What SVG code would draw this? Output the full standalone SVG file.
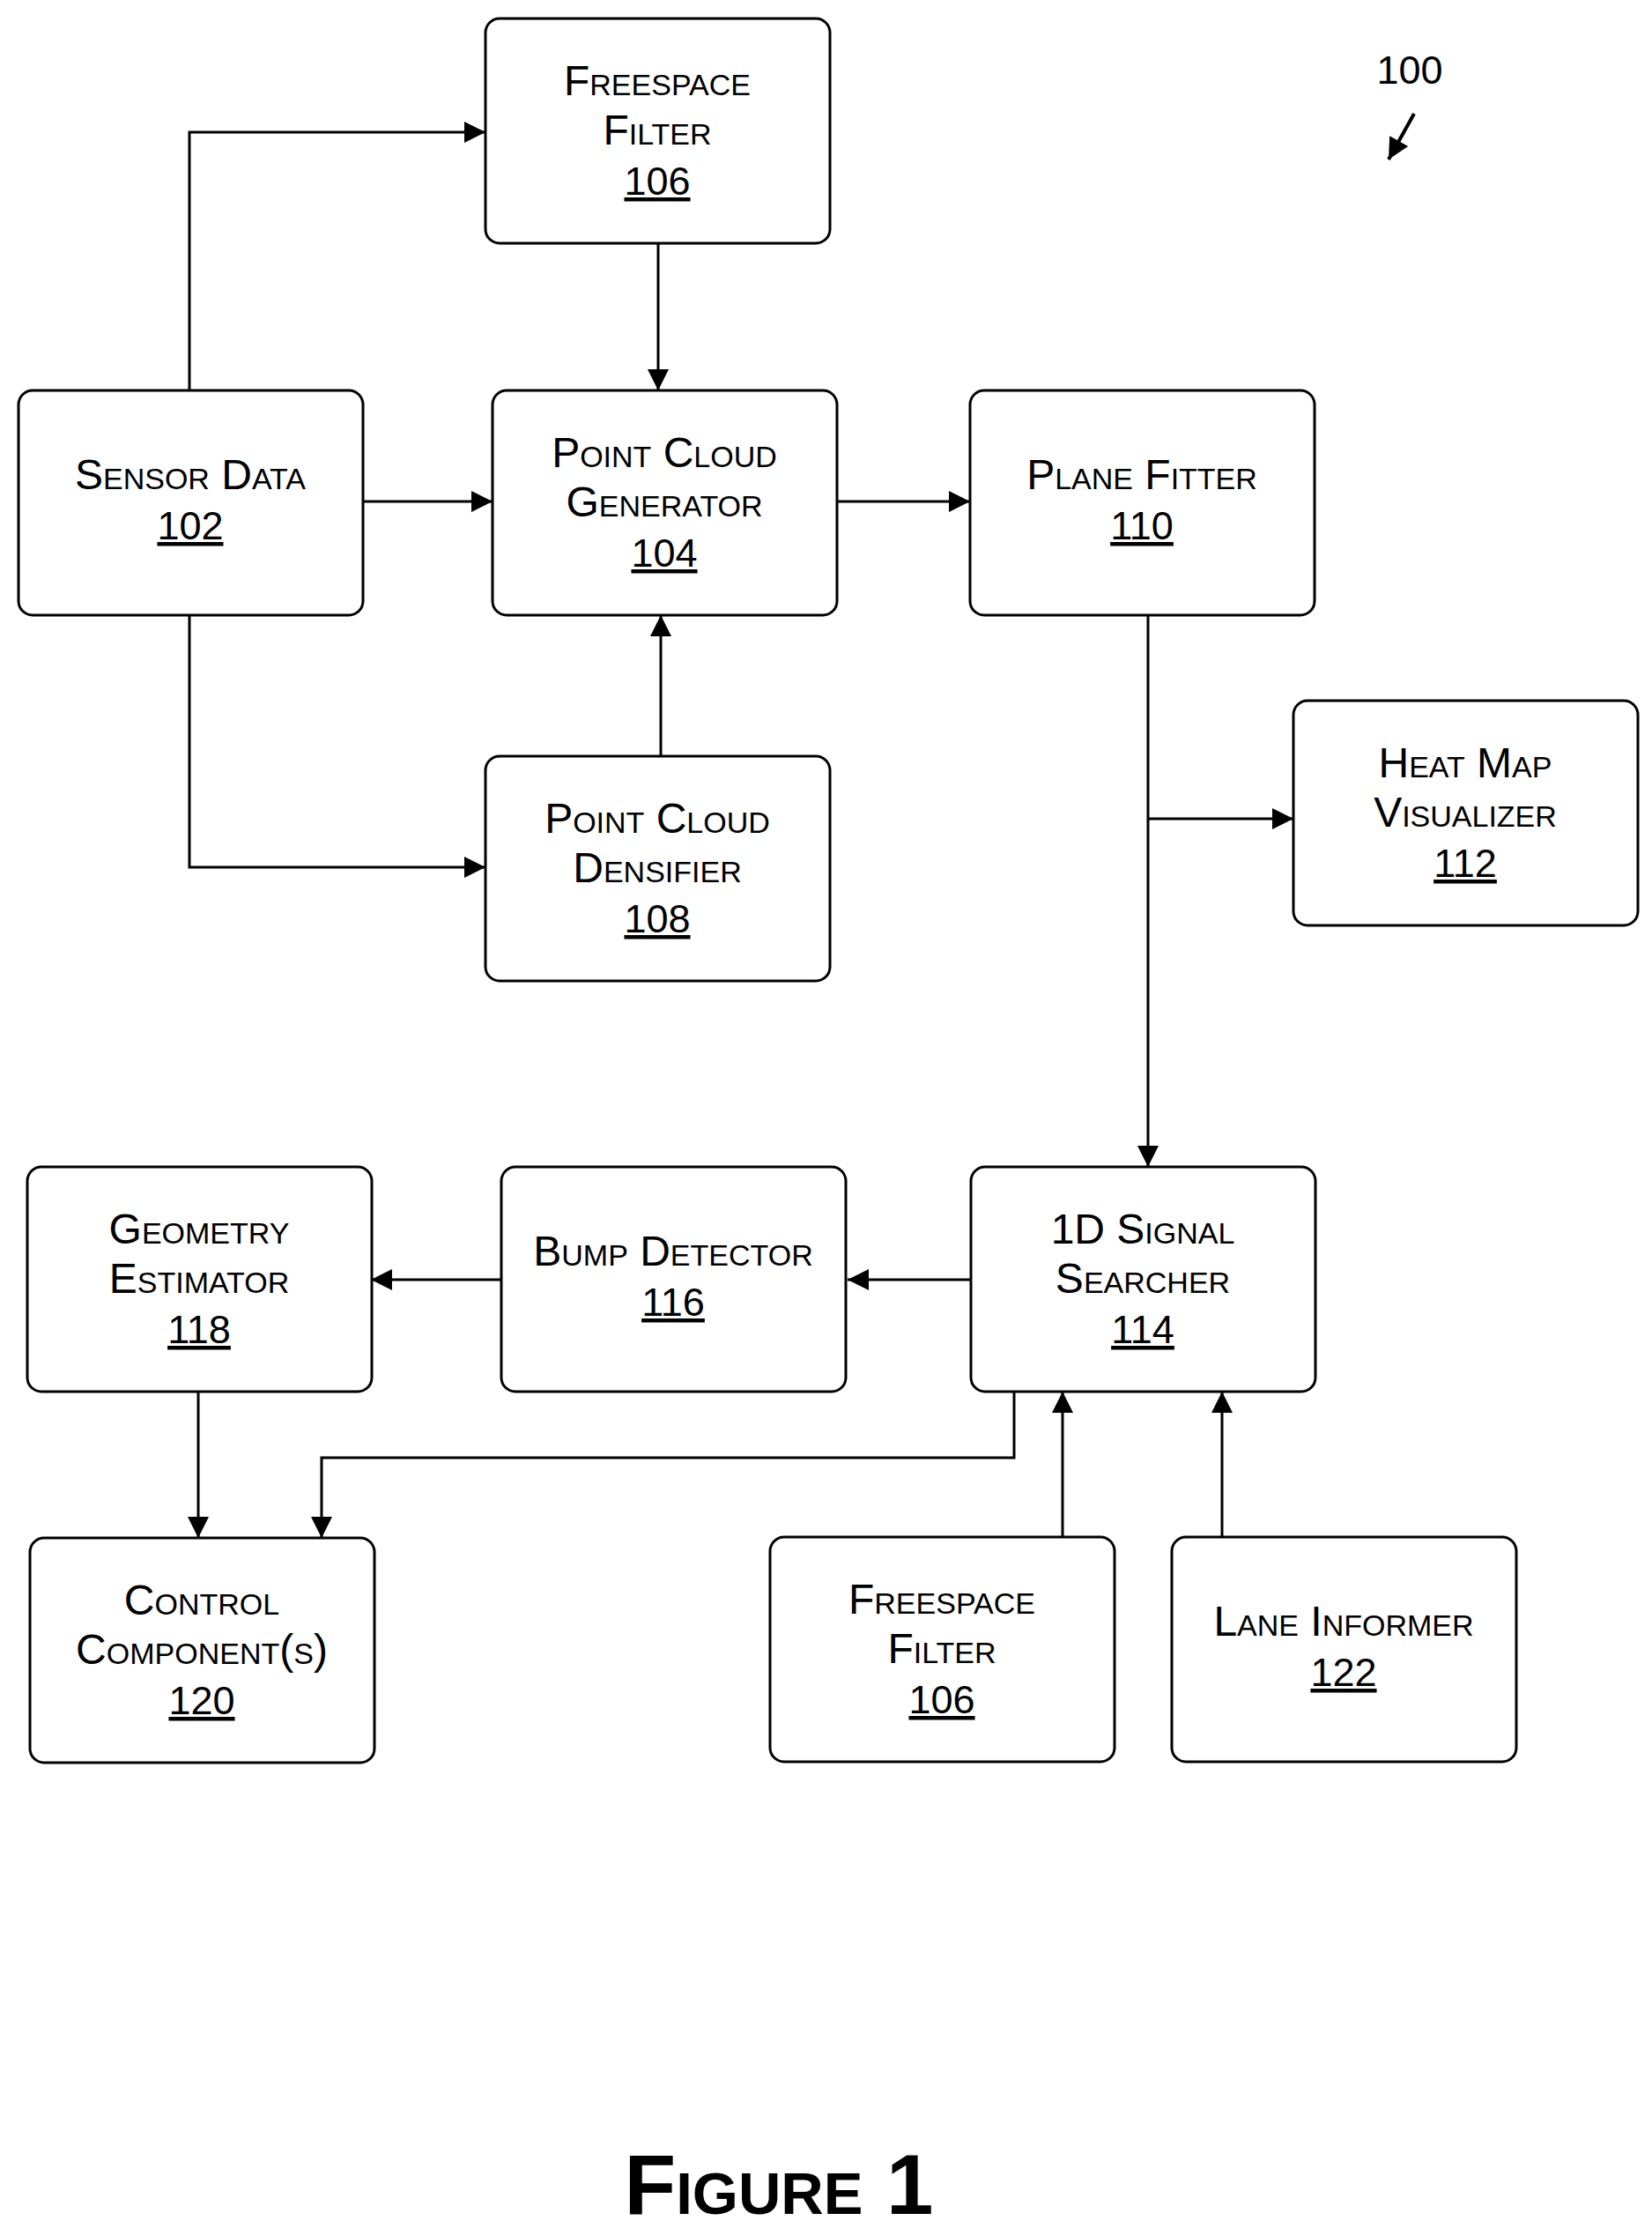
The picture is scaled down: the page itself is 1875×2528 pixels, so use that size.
<svg xmlns="http://www.w3.org/2000/svg" width="1875" height="2528" viewBox="0 0 1875 2528">
<style>
.b{fill:#fff;stroke:#000;stroke-width:3}
text{font-family:"Liberation Sans",Arial,sans-serif;font-size:45px;text-anchor:middle;fill:#000}
.sc{font-variant:small-caps;font-size:48px}
.n{text-decoration:underline}
.c{fill:none;stroke:#000;stroke-width:3;marker-end:url(#a)}
</style>
<defs><marker id="a" viewBox="0 0 10 10" refX="10" refY="5" markerWidth="36" markerHeight="24" markerUnits="userSpaceOnUse" orient="auto"><path d="M0,0L10,5L0,10z" fill="#000"/></marker></defs>
<rect width="1875" height="2528" fill="#fff"/>
<g id="n106a"><rect class="b" x="551" y="21" width="391" height="255" rx="16"/><text class="sc" x="746" y="108">Freespace</text><text class="sc" x="746" y="164">Filter</text><text class="n" x="746" y="221">106</text></g>
<g id="n102"><rect class="b" x="21" y="443" width="391" height="255" rx="16"/><text class="sc" x="216" y="555">Sensor Data</text><text class="n" x="216" y="612">102</text></g>
<g id="n104"><rect class="b" x="559" y="443" width="391" height="255" rx="16"/><text class="sc" x="754" y="530">Point Cloud</text><text class="sc" x="754" y="586">Generator</text><text class="n" x="754" y="643">104</text></g>
<g id="n110"><rect class="b" x="1101" y="443" width="391" height="255" rx="16"/><text class="sc" x="1296" y="555">Plane Fitter</text><text class="n" x="1296" y="612">110</text></g>
<g id="n108"><rect class="b" x="551" y="858" width="391" height="255" rx="16"/><text class="sc" x="746" y="945">Point Cloud</text><text class="sc" x="746" y="1001">Densifier</text><text class="n" x="746" y="1058">108</text></g>
<g id="n112"><rect class="b" x="1468" y="795" width="391" height="255" rx="16"/><text class="sc" x="1663" y="882">Heat Map</text><text class="sc" x="1663" y="938">Visualizer</text><text class="n" x="1663" y="995">112</text></g>
<g id="n118"><rect class="b" x="31" y="1324" width="391" height="255" rx="16"/><text class="sc" x="226" y="1411">Geometry</text><text class="sc" x="226" y="1467">Estimator</text><text class="n" x="226" y="1524">118</text></g>
<g id="n116"><rect class="b" x="569" y="1324" width="391" height="255" rx="16"/><text class="sc" x="764" y="1436">Bump Detector</text><text class="n" x="764" y="1493">116</text></g>
<g id="n114"><rect class="b" x="1102" y="1324" width="391" height="255" rx="16"/><text class="sc" x="1297" y="1411">1D Signal</text><text class="sc" x="1297" y="1467">Searcher</text><text class="n" x="1297" y="1524">114</text></g>
<g id="n120"><rect class="b" x="34" y="1745" width="391" height="255" rx="16"/><text class="sc" x="229" y="1832">Control</text><text class="sc" x="229" y="1888">Component(s)</text><text class="n" x="229" y="1945">120</text></g>
<g id="n106b"><rect class="b" x="874" y="1744" width="391" height="255" rx="16"/><text class="sc" x="1069" y="1831">Freespace</text><text class="sc" x="1069" y="1887">Filter</text><text class="n" x="1069" y="1944">106</text></g>
<g id="n122"><rect class="b" x="1330" y="1744" width="391" height="255" rx="16"/><text class="sc" x="1525" y="1856">Lane Informer</text><text class="n" x="1525" y="1913">122</text></g>
<g id="connectors">
<path class="c" d="M215,443V150H551"/>
<path class="c" d="M747,276V443"/>
<path class="c" d="M412,569H559"/>
<path class="c" d="M215,698V984H551"/>
<path class="c" d="M750,858V698"/>
<path class="c" d="M950,569H1101"/>
<path class="c" d="M1303,698V1324"/>
<path class="c" d="M1303,929H1468"/>
<path class="c" d="M1102,1452H962"/>
<path class="c" d="M569,1452H421"/>
<path class="c" d="M225,1579V1745"/>
<path class="c" d="M1151,1579V1654H365V1745"/>
<path class="c" d="M1206,1744V1579"/>
<path class="c" d="M1387,1744V1579"/>
<path class="c" d="M1605,129L1576,181" style="stroke-width:4"/>
</g>
<text x="1600" y="95">100</text>
<text class="sc" x="884" y="2512" style="font-size:96px;font-weight:bold">Figure 1</text>
</svg>
